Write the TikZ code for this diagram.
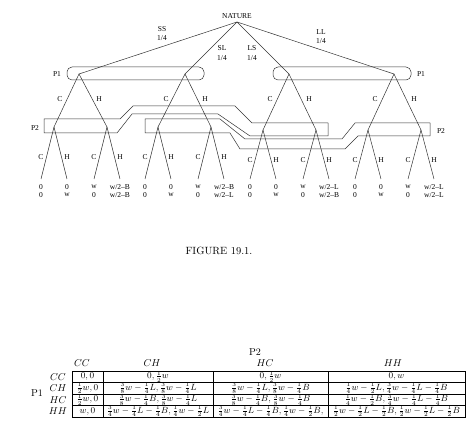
\documentclass[tikz,border=0pt]{standalone}
\usepackage{fontspec}
\newfontfamily\treefont{Liberation Serif}
\usepackage{tikz}
\usetikzlibrary{positioning,calc}
\newcommand{\qt}{\frac14}
\newcommand{\hf}{\frac12}
\newcommand{\te}{\frac38}
\newcommand{\tq}{\frac34}

\begin{document}
\begin{tikzpicture}[
  x=1pt, y=-1pt, line width=.5pt,
  lbl/.style={font=\treefont\fontsize{7.5}{8}\selectfont,inner sep=0pt},
  edge/.style={draw=black!80},
  infoset/.style={draw=black!80,line join=round},
  head/.style={inner sep=0pt,font=\fontsize{10}{12}\selectfont},
  cell/.style={inner sep=0pt,font=\fontsize{8.8}{10}\selectfont},
  rule/.style={line width=.8pt}]
\useasboundingbox (0,0) rectangle (474,438);

\coordinate (nat) at (237,22);
\node[lbl,above=3pt of nat] (natlbl) {NATURE};
\coordinate (a1) at (79,74);
\coordinate (a2) at (185,74);
\coordinate (a3) at (289,74);
\coordinate (a4) at (394,74);
\draw[edge] (nat) -- (a1);
\draw[edge] (nat) -- (a2);
\draw[edge] (nat) -- (a3);
\draw[edge] (nat) -- (a4);

\node[lbl] (ss) at (162,29) {SS}; \node[lbl] (ssp) at (162,38) {1/4};
\node[lbl] (sl) at (222,48) {SL}; \node[lbl] (slp) at (222,58) {1/4};
\node[lbl] (ls) at (252,48) {LS}; \node[lbl] (lsp) at (252,58) {1/4};
\node[lbl] (ll) at (321,32) {LL}; \node[lbl] (llp) at (321,41) {1/4};

\draw[infoset,rounded corners=5pt] (67,67) rectangle (204,80);
\draw[infoset,rounded corners=5pt] (273,67) rectangle (411,80);
\node[lbl] (p1l) at (57,74) {P1};
\node[lbl] (p1r) at (421,74) {P1};

\foreach \i in {1,...,4} {
  \node[lbl] (ac\i) at ($(a\i)+(-19,25)$) {C};
  \node[lbl] (ah\i) at ($(a\i)+(20,25)$) {H};
}

\foreach \i/\x/\y/\ca/\cb/\ha/\hb in {
    1/54/127/0/0/0/w, 2/107/127/w/0/{w/2\textendash B}/{w/2\textendash B},
    3/158/127/0/0/0/w, 4/211/127/w/0/{w/2\textendash B}/{w/2\textendash L},
    5/263/130/0/0/0/w, 6/316/130/w/0/{w/2\textendash L}/{w/2\textendash B},
    7/368/130/0/0/0/w, 8/421/130/w/0/{w/2\textendash L}/{w/2\textendash L}} {
  \coordinate (b\i) at (\x,\y);
  \coordinate (lc\i) at (\x-13,179);
  \coordinate (lh\i) at (\x+13,179);
  \draw[edge] (b\i) -- (lc\i);
  \draw[edge] (b\i) -- (lh\i);
  \node[lbl] (bc\i) at (\x-13,\y+30) {C};
  \node[lbl] (bh\i) at (\x+13,\y+30) {H};
  \node[lbl] (uc\i) at (\x-13,187) {\ca};
  \node[lbl] (vc\i) at (\x-13,195) {\cb};
  \node[lbl] (uh\i) at (\x+13,187) {\ha};
  \node[lbl] (vh\i) at (\x+13,195) {\hb};
}
\draw[edge] (a1) -- (b1); \draw[edge] (a1) -- (b2);
\draw[edge] (a2) -- (b3); \draw[edge] (a2) -- (b4);
\draw[edge] (a3) -- (b5); \draw[edge] (a3) -- (b6);
\draw[edge] (a4) -- (b7); \draw[edge] (a4) -- (b8);

\draw[infoset] (44,119) -- (120,119) -- (133,106) -- (235,106) -- (252,123)
  -- (328,123) -- (328,136) -- (250,136) -- (218,114) -- (132,114)
  -- (117,133) -- (44,133) -- cycle;
\draw[infoset] (145,119) -- (220,119) -- (245,139) -- (342,139) -- (355,123)
  -- (430,123) -- (430,136) -- (358,136) -- (345,149) -- (240,149)
  -- (230,133) -- (145,133) -- cycle;
\node[lbl] (p2l) at (35,128) {P2};
\node[lbl] (p2r) at (441,131) {P2};

\node[font=\fontsize{10.5}{12}\selectfont,inner sep=0pt] (cap) at (219,251) {FIGURE 19.1.};

\draw[rule] (72,371) rectangle (465,417);
\draw[rule] (72,382.5) -- (465,382.5);
\draw[rule] (72,394) -- (465,394);
\draw[rule] (72,405.5) -- (465,405.5);
\draw[rule] (103,371) -- (103,417);
\draw[rule] (213,371) -- (213,417);
\draw[rule] (328,371) -- (328,417);

\node[head] (pp2) at (255,352) {P2};
\node[head] (pp1) at (37,393) {P1};
\node[head] (hcc) at (82,363) {$CC$};
\node[head] (hch) at (152,363) {$CH$};
\node[head] (hhc) at (265,363) {$HC$};
\node[head] (hhh) at (393,363) {$HH$};
\node[head] (rcc) at (58,376.7) {$CC$};
\node[head] (rch) at (58,388.2) {$CH$};
\node[head] (rhc) at (58,399.7) {$HC$};
\node[head] (rhh) at (58,411.2) {$HH$};

\node[cell] (c11) at (87.5,376.7) {$0,0$};
\node[cell] (c12) at (158,376.7) {$0,\hf w$};
\node[cell] (c13) at (270.5,376.7) {$0,\hf w$};
\node[cell] (c14) at (396.5,376.7) {$0,w$};
\node[cell] (c21) at (87.5,388.2) {$\hf w,0$};
\node[cell] (c22) at (158,388.2) {$\te w-\qt L,\te w-\qt L$};
\node[cell] (c23) at (270.5,388.2) {$\te w-\qt L,\te w-\qt B$};
\node[cell] (c24) at (396.5,388.2) {$\qt w-\hf L,\tq w-\qt L-\qt B$};
\node[cell] (c31) at (87.5,399.7) {$\hf w,0$};
\node[cell] (c32) at (158,399.7) {$\te w-\qt B,\te w-\qt L$};
\node[cell] (c33) at (270.5,399.7) {$\te w-\qt B,\te w-\qt B$};
\node[cell] (c34) at (396.5,399.7) {$\qt w-\hf B,\tq w-\qt L-\qt B$};
\node[cell] (c41) at (87.5,411.2) {$w,0$};
\node[cell] (c42) at (158,411.2) {$\tq w-\qt L-\qt B,\qt w-\hf L$};
\node[cell] (c43) at (270.5,411.2) {$\tq w-\qt L-\qt B,\qt w-\hf B,$};
\node[cell] (c44) at (396.5,411.2) {$\hf w-\hf L-\hf B,\hf w-\hf L-\hf B$};
\end{tikzpicture}
\end{document}
